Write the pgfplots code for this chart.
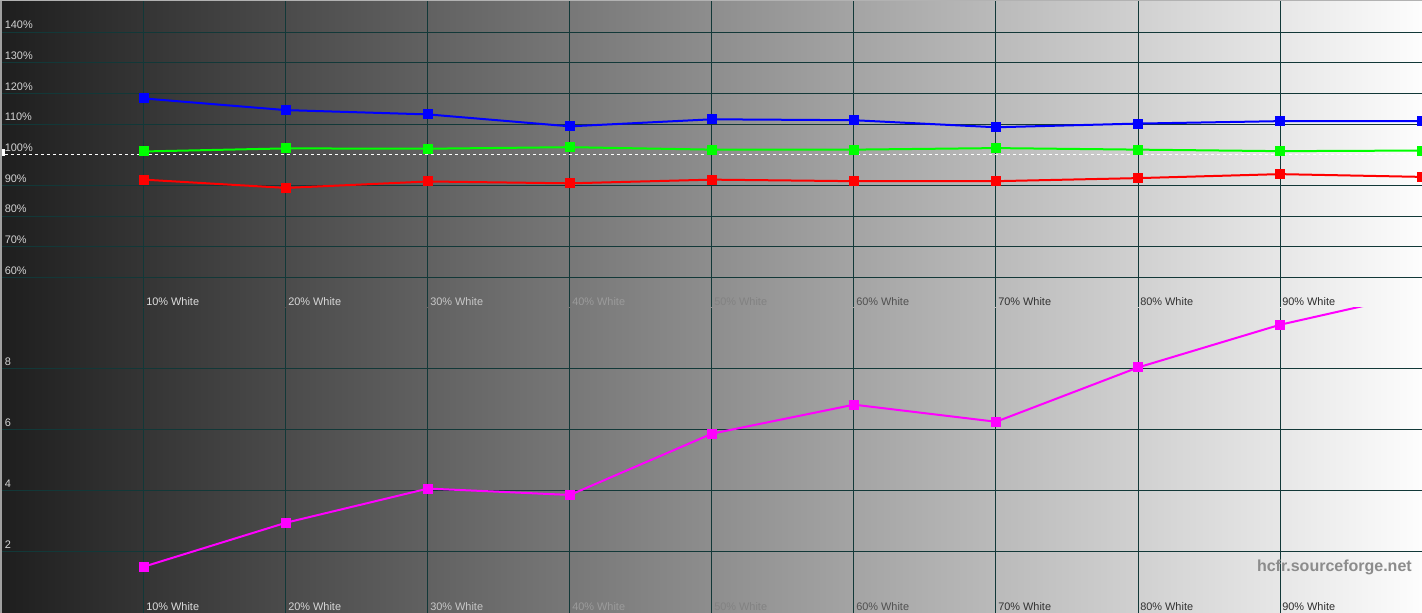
\documentclass[border=0pt]{standalone}
\usepackage{pgfplots}
\pgfplotsset{compat=1.18}
\usepackage{pgfplotstable}
\usepackage{fontspec}
\setmainfont{Liberation Sans}

\definecolor{bgleft}{RGB}{30,30,30}
\definecolor{bgright}{RGB}{253,253,253}
\definecolor{gridc}{RGB}{18,56,56}
\definecolor{ylab}{RGB}{212,212,212}
\definecolor{lblue}{RGB}{0,0,255}
\definecolor{lgreen}{RGB}{0,255,0}
\definecolor{lred}{RGB}{255,0,0}
\definecolor{lmag}{RGB}{255,0,255}
\definecolor{wmark}{RGB}{140,140,140}

% RGB levels per grey step (percent)
\pgfplotstableread{
x    r     g      b
10   91.9  101.1  118.4
20   89.2  102.1  114.6
30   91.3  102.0  113.2
40   90.7  102.5  109.3
50   91.9  101.7  111.6
60   91.4  101.7  111.3
70   91.4  102.2  109.0
80   92.4  101.7  110.2
90   93.7  101.2  111.0
100  92.8  101.4  111.0
}\levels

% delta E per grey step
\pgfplotstableread{
x    de
10   1.52
20   2.96
30   4.08
40   3.87
50   5.88
60   6.83
70   6.27
80   8.05
90   9.45
100  10.5
}\deltae

\newcommand{\wl}[2]{\textcolor[RGB]{#1,#1,#1}{#2\% White}}

\pgfplotsset{
  hcfr/.style={
    scale only axis,
    width=1066.5pt,
    xmin=-0.14, xmax=100,
    axis line style={draw=none},
    major tick length=0pt,
    tick style={draw=none},
    axis background/.style={left color=bgleft, right color=bgright},
    xtick={10,20,...,90},
    xticklabels={\wl{222}{10},\wl{215}{20},\wl{200}{30},\wl{155}{40},\wl{130}{50},\wl{80}{60},\wl{50}{70},\wl{50}{80},\wl{45}{90}},
    xticklabel style={anchor=base west, inner sep=0pt, xshift=1.5pt, yshift=2pt},
    xmajorgrids=true,
    major grid style={gridc, line width=0.75pt},
    yticklabel style={anchor=base west, inner sep=0pt, xshift=3.4pt, yshift=2.5pt, text=ylab},
    ymajorgrids=true,
    font=\fontsize{8.2}{10}\selectfont,
    /pgf/number format/assume math mode=true,
  },
}

\begin{document}
\begin{tikzpicture}
% upper panel: RGB levels
\begin{axis}[hcfr,
  at={(0pt,228.75pt)}, anchor=south west,
  height=231pt,
  ymin=50, ymax=150.55,
  ytick={60,70,...,140},
  yticklabels={60\%,70\%,80\%,90\%,100\%,110\%,120\%,130\%,140\%},
  ymajorgrids=false,
  extra y ticks={60,70,80,90,110,120,130,140},
  extra y tick labels={},
  extra y tick style={ymajorgrids=true, xmajorgrids=false},
]
\addplot[white, line width=0.75pt, dash pattern=on 2.25pt off 2.25pt] coordinates {(0.2,100) (100,100)};
\addplot[lred, line width=1.5pt, mark=square*, mark size=3pt] table[x=x, y=r] {\levels};
\addplot[lgreen, line width=1.5pt, mark=square*, mark size=3pt] table[x=x, y=g] {\levels};
\addplot[lblue, line width=1.5pt, mark=square*, mark size=3pt] table[x=x, y=b] {\levels};
\end{axis}

% lower panel: delta E
\begin{axis}[hcfr,
  at={(0pt,0pt)}, anchor=south west,
  height=228.75pt,
  ymin=0, ymax=10,
  ytick={2,4,6,8},
]
\addplot[lmag, line width=1.5pt, mark=square*, mark size=3pt] table[x=x, y=de] {\deltae};
\end{axis}

\fill[white] (0pt,342.5pt) rectangle (3.75pt,347.75pt);
\draw[gray!75, line width=1.2pt] (0.6pt,0pt) -- (0.6pt,459.75pt);
\draw[gray!60, line width=0.75pt] (0pt,459.4pt) -- (1066.5pt,459.4pt);
\node[anchor=base east, inner sep=0pt, text=wmark, font=\fontsize{12}{14}\selectfont\bfseries] at (1059pt,31pt) {hcfr.sourceforge.net};

\pgfresetboundingbox
\path[use as bounding box] (0pt,0pt) rectangle (1066.5pt,459.75pt);
\end{tikzpicture}
\end{document}
